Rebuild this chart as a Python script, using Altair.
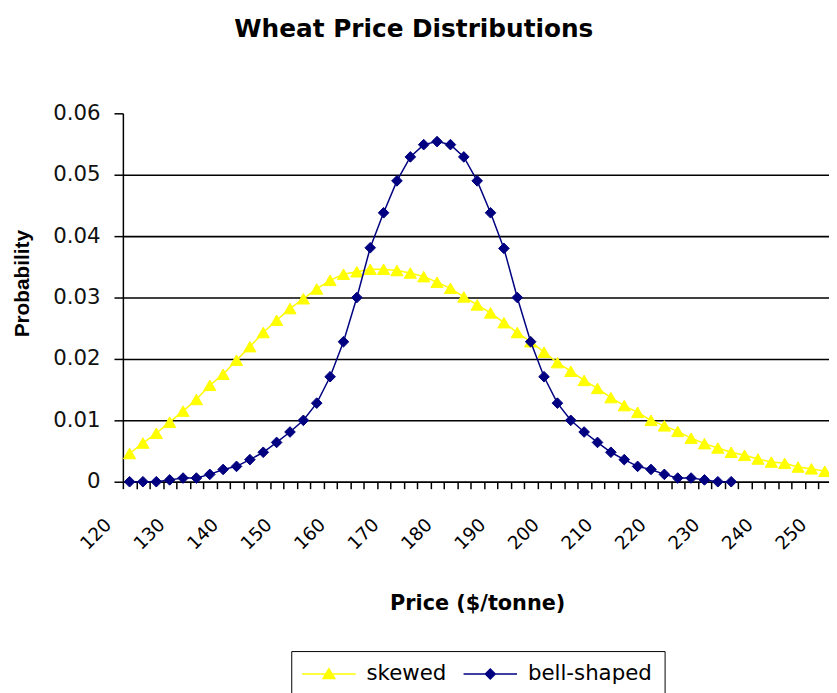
import altair as alt
import pandas as pd

# Category axis (price, $/tonne) - one category every 2.5
prices = [120 + 2.5 * i for i in range(53)]

skewed = [0.0046, 0.0063, 0.0079, 0.0097, 0.0115, 0.0134, 0.0157, 0.0175, 0.0198, 0.0220,
          0.0243, 0.0263, 0.0282, 0.0298, 0.0314, 0.0328, 0.0338, 0.0342, 0.0346, 0.0346,
          0.0344, 0.0340, 0.0334, 0.0325, 0.0315, 0.0301, 0.0288, 0.0275, 0.0259, 0.0243,
          0.0228, 0.0211, 0.0194, 0.0180, 0.0165, 0.0152, 0.0137, 0.0124, 0.0113, 0.0100,
          0.0091, 0.0082, 0.0071, 0.0062, 0.0055, 0.0048, 0.0043, 0.0037, 0.0032, 0.0030,
          0.0024, 0.0021, 0.0017]

bell = [0.0, 0.0, 0.0, 0.0003, 0.0006, 0.0006, 0.0012, 0.0020, 0.0025, 0.0036,
        0.0048, 0.0064, 0.0081, 0.0100, 0.0128, 0.0171, 0.0228, 0.0300, 0.0381, 0.0438,
        0.0490, 0.0529, 0.0549, 0.0554, 0.0549, 0.0529, 0.0490, 0.0438, 0.0380, 0.0300,
        0.0228, 0.0171, 0.0128, 0.0100, 0.0081, 0.0064, 0.0048, 0.0036, 0.0025, 0.0020,
        0.0012, 0.0006, 0.0006, 0.0003, 0.0, 0.0]

series_names = ["skewed", "bell-shaped"]
series_colors = ["#FFFF00", "#000080"]
y_ticks = [0, 0.01, 0.02, 0.03, 0.04, 0.05, 0.06]

rows = [{"price": p, "prob": v, "series": "skewed"} for p, v in zip(prices, skewed)]
rows += [{"price": p, "prob": v, "series": "bell-shaped"} for p, v in zip(prices, bell)]
df = pd.DataFrame(rows)

# legend key shapes: line segment with the marker in the middle (unit = sqrt(size)/2 px)
tri_path = "M-2.7,0H2.7M-0.6,0.45L0,-0.55L0.6,0.45Z"
dia_path = "M-2.7,0H2.7M-0.5,0L0,-0.5L0.5,0L0,0.5Z"

x_enc = alt.X(
    "price:O",
    scale=alt.Scale(type="band", domain=prices, paddingInner=0, paddingOuter=0),
    axis=alt.Axis(
        title="Price ($/tonne)",
        tickBand="extent",
        labelAngle=315,
        labelAlign="right",
        labelBaseline="middle",
        labelExpr="datum.value % 10 == 0 ? datum.label : ''",
        labelOverlap=False,
        labelFont="DejaVu Sans",
        labelFontSize=18.5,
        labelColor="black",
        labelPadding=33,
        labelOffset=-22,
        tickSize=7,
        tickColor="black",
        tickWidth=1.5,
        domainColor="black",
        domainWidth=1.5,
        grid=False,
        titleFont="DejaVu Sans",
        titleFontSize=21,
        titleFontWeight="bold",
        titleColor="black",
        titleBaseline="alphabetic",
        titleY=129,
    ),
)

y_enc = alt.Y(
    "prob:Q",
    scale=alt.Scale(domain=[0, 0.06], nice=False, zero=True),
    axis=alt.Axis(
        title="Probability",
        values=y_ticks,
        format=".2~f",
        grid=True,
        gridColor={"condition": {"test": "datum.value >= 0.055", "value": "transparent"}, "value": "black"},
        gridWidth=1.6,
        labelFont="DejaVu Sans",
        labelFontSize=21.5,
        labelColor="#111111",
        labelPadding=14,
        tickSize=9,
        tickColor="black",
        tickWidth=1.5,
        domainColor="black",
        domainWidth=1.5,
        titleFont="Liberation Sans",
        titleFontSize=21,
        titleFontWeight="bold",
        titleColor="black",
        titleAngle=270,
        titleAlign="center",
        titleBaseline="middle",
        titleX=-101,
        titleY=171.5,
    ),
)

base = alt.Chart(df).encode(x=x_enc, y=y_enc)

sk = base.transform_filter(alt.datum.series == "skewed")
bl = base.transform_filter(alt.datum.series == "bell-shaped")

line_sk = sk.mark_line(color=series_colors[0], strokeWidth=1.5)
pts_sk = sk.mark_point(shape="triangle-up", filled=True, size=150, color=series_colors[0],
                       stroke=series_colors[0], strokeWidth=1, opacity=1)
line_bl = bl.mark_line(color=series_colors[1], strokeWidth=1.5)
pts_bl = bl.mark_point(shape="diamond", filled=True, size=115, color=series_colors[1],
                       stroke=series_colors[1], strokeWidth=1, opacity=1)

leg = alt.Legend(
    title=None,
    orient="none",
    legendX=170,
    legendY=543,
    direction="horizontal",
    fillColor="white",
    strokeColor="black",
    cornerRadius=0,
    padding=12,
    labelFont="DejaVu Sans",
    labelFontSize=21.5,
    labelColor="black",
    labelOffset=27,
    columnPadding=14,
    symbolSize=400,
    symbolOffset=15,
    symbolStrokeWidth=1.5,
    symbolOpacity=1,
)

legend_layer = base.mark_point(filled=True, opacity=0).encode(
    fill=alt.Fill("series:N", scale=alt.Scale(domain=series_names, range=series_colors), legend=leg),
    stroke=alt.Stroke("series:N", scale=alt.Scale(domain=series_names, range=series_colors), legend=leg),
    shape=alt.Shape("series:N", scale=alt.Scale(domain=series_names, range=[tri_path, dia_path]), legend=leg),
)

chart = alt.layer(line_sk, pts_sk, line_bl, pts_bl, legend_layer).properties(
    width=715.5,
    height=372,
    padding={"left": 116, "top": 103, "right": -2.5, "bottom": 212},
    autosize="none",
    background="white",
    title=alt.TitleParams(
        "Wheat Price Distributions",
        font="DejaVu Sans",
        fontSize=25,
        fontWeight="bold",
        color="black",
        anchor="middle",
        dx=-64,
        dy=-57,
    ),
).configure_view(strokeOpacity=0)

chart.save("out.html", embed_options={"renderer": "svg", "actions": False})
